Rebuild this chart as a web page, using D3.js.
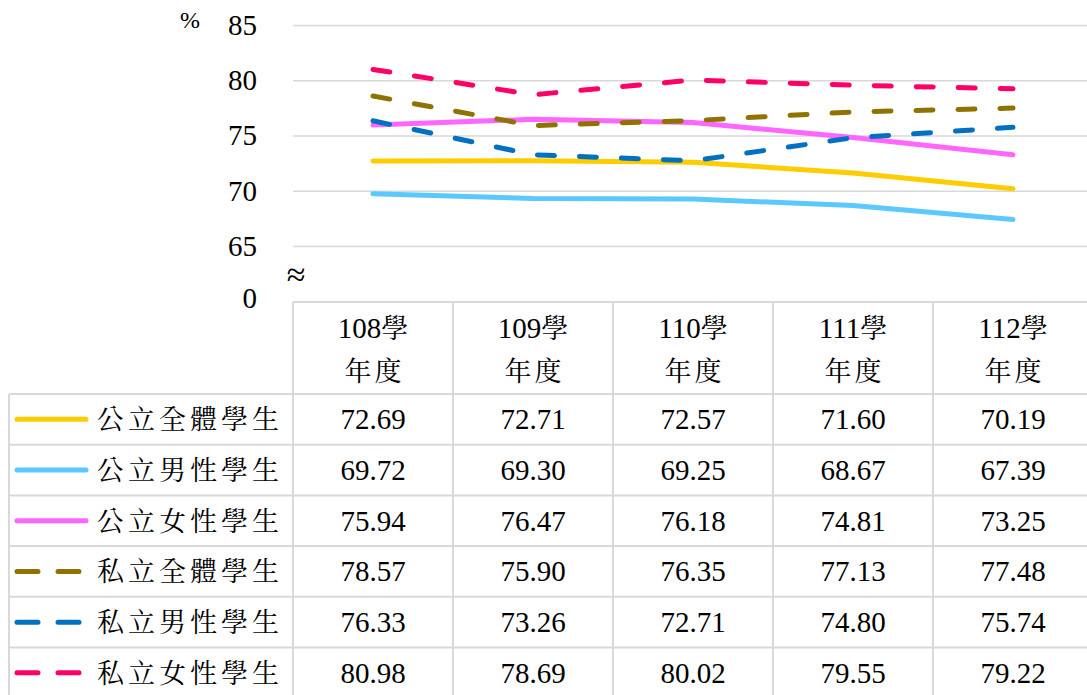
<!DOCTYPE html>
<html>
<head>
<meta charset="UTF-8">
<script src="https://d3js.org/d3.v7.min.js"></script>
</head>
<body style="margin:0; background:#fff">
<svg width="1087" height="695"></svg>
<script>

// chart data
var years = ["108", "109", "110", "111", "112"];
var seriesNames = ["公立全體學生", "公立男性學生", "公立女性學生", "私立全體學生", "私立男性學生", "私立女性學生"];
var pubAll    = [72.69, 72.71, 72.57, 71.60, 70.19];
var pubMale   = [69.72, 69.30, 69.25, 68.67, 67.39];
var pubFemale = [75.94, 76.47, 76.18, 74.81, 73.25];
var priAll    = [78.57, 75.90, 76.35, 77.13, 77.48];
var priMale   = [76.33, 73.26, 72.71, 74.80, 75.74];
var priFemale = [80.98, 78.69, 80.02, 79.55, 79.22];
var yTicks = [0, 65, 70, 75, 80, 85];

var allValues = [pubAll, pubMale, pubFemale, priAll, priMale, priFemale];
var colors = ["#FFCC00", "#5BC8FF", "#FF66FF", "#8F7300", "#0070C0", "#FF0066"];
var dashed = [false, false, false, true, true, true];

var LATIN = "Liberation Serif";
var CJK = "Noto Serif CJK TC";

var svg = d3.select("svg"),
    plotLeft = 293,
    plotRight = 1093,
    tableTop = 302,
    headerBottom = 394,
    rowH = 50.7,
    legendLeft = 9;

var x = d3.scaleBand().domain(years).range([plotLeft, plotRight]);

// broken axis: 0 sits below the break, 65-85 is the visible range
var y = d3.scaleLinear().domain([0, 65, 85]).range([298, 246, 25]);

// gridlines
var gridG = svg.append("g")
    .attr("transform", "translate(" + plotLeft + ",0)")
    .call(d3.axisLeft(y).tickValues(yTicks.filter(function(d) { return d > 0; }))
      .tickSize(-(plotRight - plotLeft)).tickFormat(""));
gridG.select(".domain").remove();
gridG.selectAll("line")
    .attr("stroke", "#d9d9d9")
    .attr("stroke-width", 1.5);

// tick labels
var yAxis = svg.append("g")
    .attr("transform", "translate(" + plotLeft + ",0)")
    .call(d3.axisLeft(y).tickValues(yTicks).tickSize(0).tickPadding(36));
yAxis.select(".domain").remove();
yAxis.selectAll("text")
    .attr("font-family", LATIN)
    .attr("font-size", "29px")
    .attr("fill", "#000");

svg.append("text")
    .attr("x", 190)
    .attr("y", 28)
    .attr("text-anchor", "middle")
    .attr("font-family", LATIN)
    .attr("font-size", "24px")
    .text("%");

svg.append("text")
    .attr("x", 296)
    .attr("y", 286)
    .attr("text-anchor", "middle")
    .attr("font-family", LATIN)
    .attr("font-size", "34px")
    .text("≈");

// lines
var line = d3.line()
    .x(function(d, i) { return x(years[i]) + x.bandwidth() / 2; })
    .y(function(d) { return y(d); });

allValues.forEach(function(vals, k) {
  svg.append("path")
      .datum(vals)
      .attr("fill", "none")
      .attr("stroke", colors[k])
      .attr("stroke-width", 5)
      .attr("stroke-linecap", "round")
      .attr("stroke-linejoin", "round")
      .attr("stroke-dasharray", dashed[k] ? "17,25" : null)
      .attr("d", line);
});

// data table
var grid = svg.append("g")
    .attr("stroke", "#d9d9d9")
    .attr("stroke-width", 2);

var rowY = d3.range(seriesNames.length + 1).map(function(i) { return headerBottom + i * rowH; });

grid.append("line")
    .attr("x1", plotLeft).attr("x2", plotRight)
    .attr("y1", tableTop).attr("y2", tableTop);

rowY.forEach(function(yy) {
  grid.append("line")
      .attr("x1", legendLeft).attr("x2", plotRight)
      .attr("y1", yy).attr("y2", yy);
});

grid.append("line")
    .attr("x1", legendLeft).attr("x2", legendLeft)
    .attr("y1", headerBottom).attr("y2", 695);

years.concat(["end"]).forEach(function(d, i) {
  var xx = plotLeft + i * x.bandwidth();
  grid.append("line")
      .attr("x1", xx).attr("x2", xx)
      .attr("y1", tableTop).attr("y2", 695);
});

// header
years.forEach(function(d) {
  var cx = x(d) + x.bandwidth() / 2;
  var t = svg.append("text")
      .attr("x", cx)
      .attr("y", 338)
      .attr("text-anchor", "middle")
      .attr("font-size", "29px");
  t.append("tspan").attr("font-family", LATIN).text(d);
  t.append("tspan").attr("font-family", CJK).attr("font-size", "27px").text("學");
  svg.append("text")
      .attr("x", cx + 1.5)
      .attr("y", 381)
      .attr("text-anchor", "middle")
      .attr("font-family", CJK)
      .attr("font-size", "27px")
      .attr("letter-spacing", "3px")
      .text("年度");
});

// rows
seriesNames.forEach(function(name, k) {
  var cy = headerBottom + k * rowH + rowH / 2;

  svg.append("line")
      .attr("x1", 17).attr("x2", 86)
      .attr("y1", cy).attr("y2", cy)
      .attr("stroke", colors[k])
      .attr("stroke-width", 5)
      .attr("stroke-linecap", "round")
      .attr("stroke-dasharray", dashed[k] ? "21,20" : null);

  svg.append("text")
      .attr("x", 97)
      .attr("y", cy + 10)
      .attr("font-family", CJK)
      .attr("font-size", "27px")
      .attr("letter-spacing", "4px")
      .text(name);

  allValues[k].forEach(function(v, i) {
    svg.append("text")
        .attr("x", x(years[i]) + x.bandwidth() / 2)
        .attr("y", cy + 10)
        .attr("text-anchor", "middle")
        .attr("font-family", LATIN)
        .attr("font-size", "29px")
        .text(v.toFixed(2));
  });
});

</script>
</body>
</html>
